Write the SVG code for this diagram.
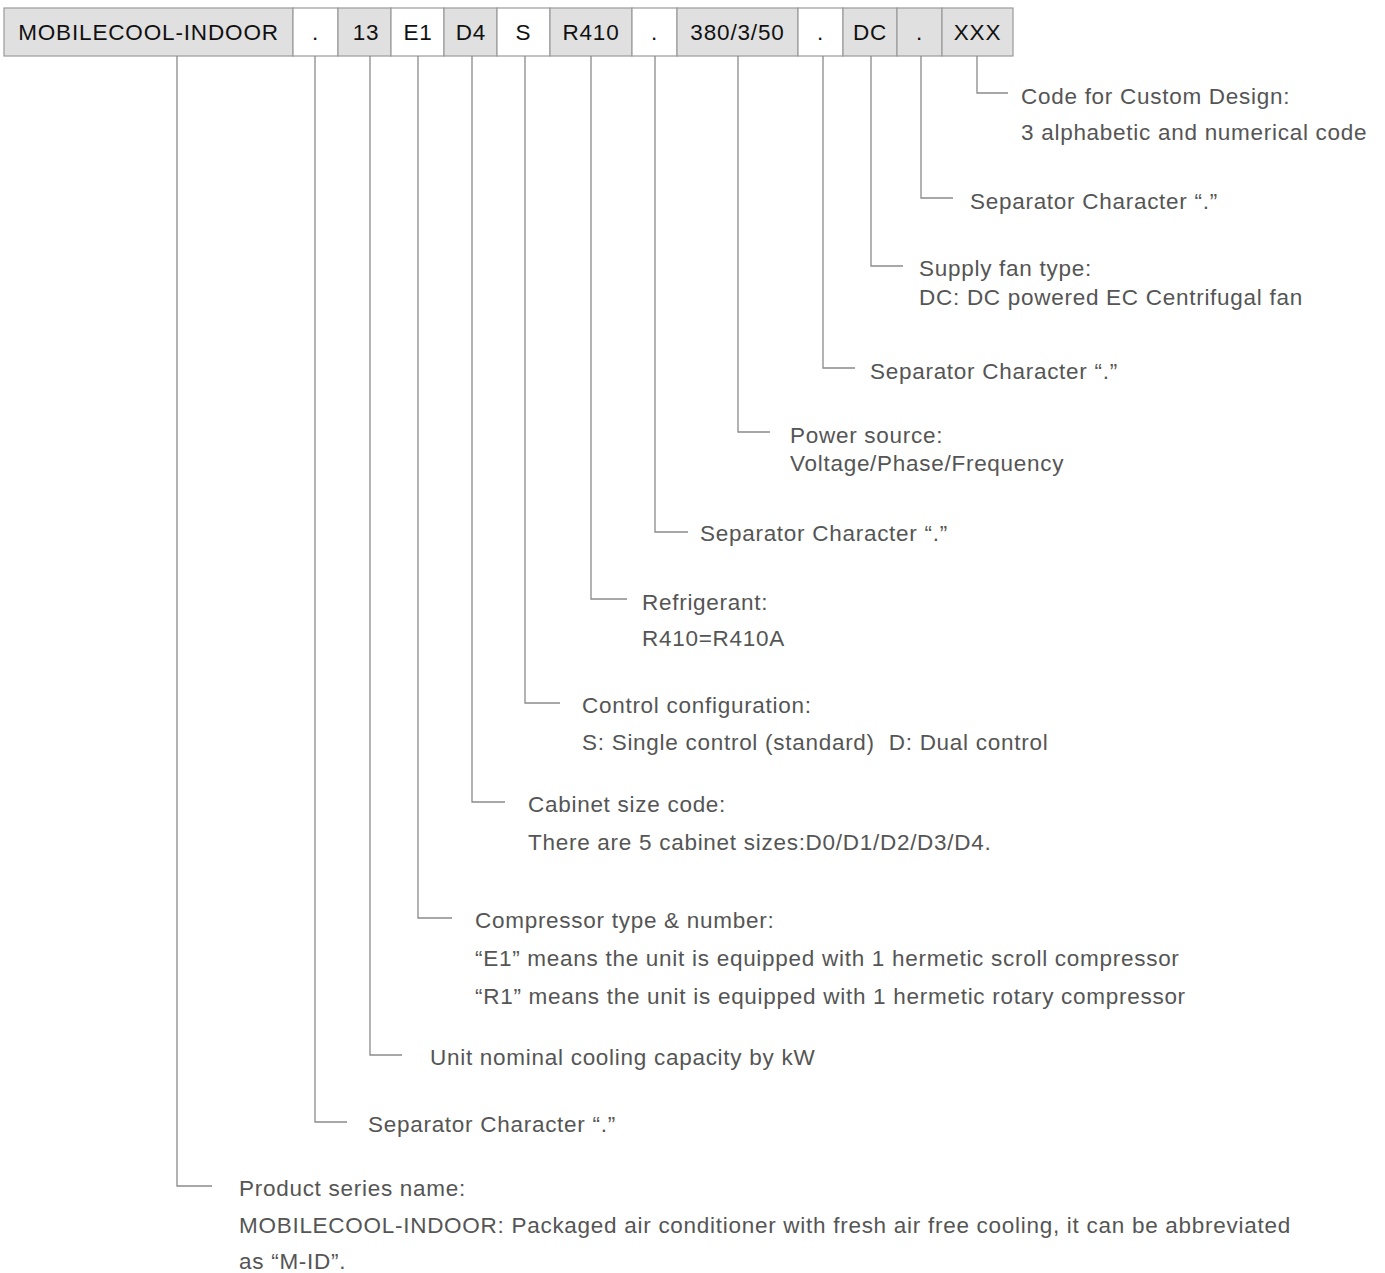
<svg xmlns="http://www.w3.org/2000/svg" width="1385" height="1273" viewBox="0 0 1385 1273">
<style>
.box{stroke:#9a9a9a;stroke-width:1.2}
.g{fill:#e0e0e0}
.w{fill:#ffffff}
.bt{font-family:"Liberation Sans",Arial,sans-serif;font-size:22.5px;fill:#111;text-anchor:middle;letter-spacing:0.85px}
.t{font-family:"Liberation Sans",Arial,sans-serif;font-size:22.5px;fill:#555;letter-spacing:0.72px}
.c{fill:none;stroke:#8a8a8a;stroke-width:1.3}
</style>
<rect width="1385" height="1273" fill="#fff"/>
<g id="code">
<g id="n-series"><rect class="box g" x="4" y="8" width="289" height="48"/><text class="bt" x="148.5" y="40">MOBILECOOL-INDOOR</text></g>
<g id="n-sep1"><rect class="box w" x="293" y="8" width="45" height="48"/><text class="bt" x="315.5" y="40">.</text></g>
<g id="n-cap"><rect class="box g" x="338" y="8" width="53" height="48"/><text class="bt" x="366" y="40">13</text></g>
<g id="n-comp"><rect class="box w" x="391" y="8" width="53" height="48"/><text class="bt" x="418" y="40">E1</text></g>
<g id="n-cab"><rect class="box g" x="444" y="8" width="53" height="48"/><text class="bt" x="471" y="40">D4</text></g>
<g id="n-ctrl"><rect class="box w" x="497" y="8" width="53" height="48"/><text class="bt" x="523.5" y="40">S</text></g>
<g id="n-ref"><rect class="box g" x="550" y="8" width="82" height="48"/><text class="bt" x="591" y="40">R410</text></g>
<g id="n-sep2"><rect class="box w" x="632" y="8" width="45" height="48"/><text class="bt" x="654.5" y="40">.</text></g>
<g id="n-power"><rect class="box g" x="677" y="8" width="121" height="48"/><text class="bt" x="737.5" y="40">380/3/50</text></g>
<g id="n-sep3"><rect class="box w" x="798" y="8" width="45" height="48"/><text class="bt" x="820.5" y="40">.</text></g>
<g id="n-fan"><rect class="box g" x="843" y="8" width="54" height="48"/><text class="bt" x="870" y="40">DC</text></g>
<g id="n-sep4"><rect class="box g" x="897" y="8" width="45" height="48"/><text class="bt" x="919.5" y="40">.</text></g>
<g id="n-custom"><rect class="box g" x="942" y="8" width="71" height="48"/><text class="bt" x="977.5" y="40">XXX</text></g>
</g>
<g id="connectors">
<path class="c" d="M977 56V93H1008"/>
<path class="c" d="M921 56V198H953"/>
<path class="c" d="M871 56V266H903"/>
<path class="c" d="M823 56V368H855"/>
<path class="c" d="M738 56V432H770"/>
<path class="c" d="M655 56V532H688"/>
<path class="c" d="M591 56V599H627"/>
<path class="c" d="M525 56V703H560"/>
<path class="c" d="M472 56V802H505"/>
<path class="c" d="M418 56V918H452"/>
<path class="c" d="M370 56V1055H402"/>
<path class="c" d="M315 56V1122H347"/>
<path class="c" d="M177 56V1186H212"/>
</g>
<g id="labels">
<g id="l-custom"><text class="t" x="1021" y="104">Code for Custom Design:</text><text class="t" x="1021" y="140">3 alphabetic and numerical code</text></g>
<g id="l-sep4"><text class="t" x="970" y="209">Separator Character “.”</text></g>
<g id="l-fan"><text class="t" x="919" y="276">Supply fan type:</text><text class="t" x="919" y="305">DC: DC powered EC Centrifugal fan</text></g>
<g id="l-sep3"><text class="t" x="870" y="379">Separator Character “.”</text></g>
<g id="l-power"><text class="t" x="790" y="443">Power source:</text><text class="t" x="790" y="471">Voltage/Phase/Frequency</text></g>
<g id="l-sep2"><text class="t" x="700" y="541">Separator Character “.”</text></g>
<g id="l-ref"><text class="t" x="642" y="610">Refrigerant:</text><text class="t" x="642" y="646">R410=R410A</text></g>
<g id="l-ctrl"><text class="t" x="582" y="713">Control configuration:</text><text class="t" x="582" y="750" xml:space="preserve">S: Single control (standard)  D: Dual control</text></g>
<g id="l-cab"><text class="t" x="528" y="812">Cabinet size code:</text><text class="t" x="528" y="850">There are 5 cabinet sizes:D0/D1/D2/D3/D4.</text></g>
<g id="l-comp"><text class="t" x="475" y="928">Compressor type &amp; number:</text><text class="t" x="475" y="966">“E1” means the unit is equipped with 1 hermetic scroll compressor</text><text class="t" x="475" y="1004">“R1” means the unit is equipped with 1 hermetic rotary compressor</text></g>
<g id="l-cap"><text class="t" x="430" y="1065">Unit nominal cooling capacity by kW</text></g>
<g id="l-sep1"><text class="t" x="368" y="1132">Separator Character “.”</text></g>
<g id="l-series"><text class="t" x="239" y="1196">Product series name:</text><text class="t" x="239" y="1233">MOBILECOOL-INDOOR: Packaged air conditioner with fresh air free cooling, it can be abbreviated</text><text class="t" x="239" y="1269">as “M-ID”.</text></g>
</g>
</svg>
